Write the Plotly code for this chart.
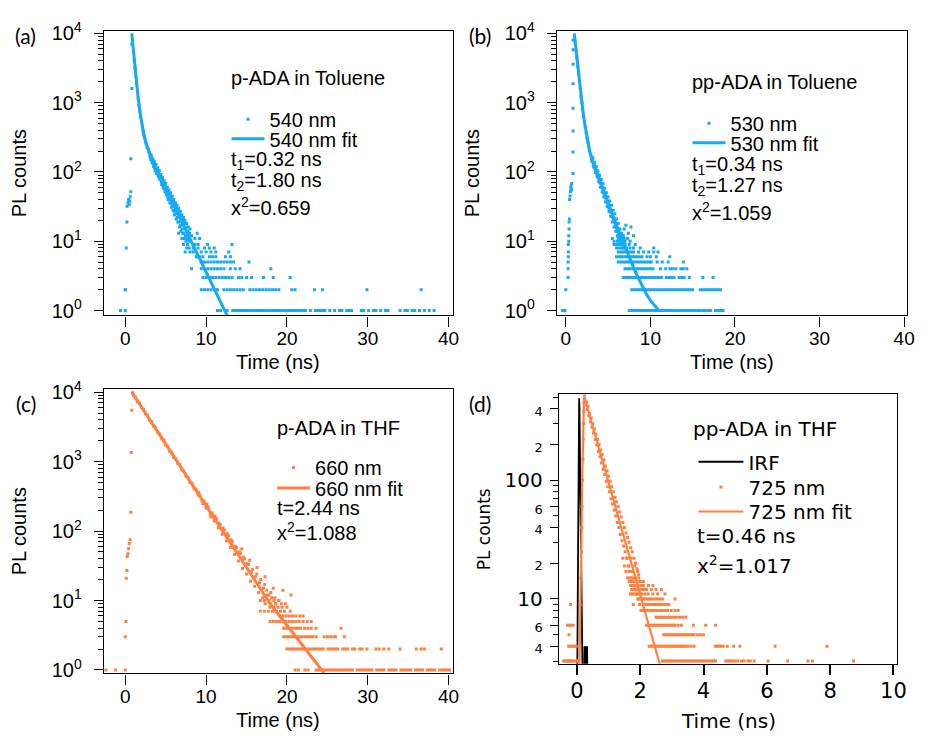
import plotly.graph_objects as go

W, H = 927, 738
BLUE = "#17A9F4"
ORANGE = "#FF8040"
SANS = "Liberation Sans, Arial, Helvetica, sans-serif"
DEJA = "DejaVu Sans, sans-serif"
LETTER = "Lato, sans-serif"

# ---------------- panel (a): p-ADA in Toluene, 540 nm ----------------
a_rise_t = [-0.6, 0.0, 0.0, 0.12, 0.2, 0.22, 0.33, 0.41, 0.49, 0.55, 0.61, 0.69, 0.69, 0.81, 0.81]
a_rise_n = [1, 1, 2, 8, 19, 32, 36, 40, 34, 38, 44, 52, 155, 1600, 7000]
a_dec_t = [1.0, 1.1, 1.2, 1.3, 1.4, 1.5, 1.6, 1.7, 1.8, 1.9, 2.0, 2.1, 2.2, 2.3, 2.4, 2.5, 2.6, 2.7, 2.8, 2.9,
           3.0, 3.1, 3.2, 3.3, 3.4, 3.5, 3.6, 3.7, 3.8, 3.9, 4.0, 4.1, 4.2, 4.3, 4.4, 4.5, 4.6, 4.7, 4.8, 4.9,
           5.0, 5.1, 5.2, 5.3, 5.4, 5.5, 5.6, 5.7, 5.8, 5.9, 6.0, 6.1, 6.2, 6.3, 6.4, 6.5, 6.6, 6.7, 6.8, 6.9,
           7.0, 7.1, 7.2, 7.3, 7.4, 7.5, 7.6, 7.7, 7.8, 7.9, 8.0, 8.2, 8.4, 8.6, 8.8, 9.0]
a_dec_n = [5500, 4150, 3150, 2400, 1880, 1450, 1160, 920, 760, 615, 530, 445, 395, 340, 310, 272, 255, 228, 218, 195,
           190, 160, 175, 140, 155, 120, 140, 105, 128, 95, 115, 85, 104, 78, 92, 66, 84, 58, 75, 52,
           68, 47, 60, 40, 55, 36, 50, 31, 45, 28, 40, 24, 36, 21, 33, 19, 30, 16, 27, 14,
           24, 13, 22, 11, 20, 10, 18, 9, 16, 8, 15, 12, 7, 11, 6, 9]
a_dec2_t = [3.05, 3.15, 3.25, 3.35, 3.45, 3.55, 3.65, 3.75, 3.85, 3.95, 4.05, 4.15, 4.25, 4.35, 4.45, 4.55, 4.65,
            4.75, 4.85, 4.95, 5.05, 5.15, 5.25, 5.35, 5.45, 5.55, 5.65, 5.75, 5.85, 5.95, 6.05, 6.15, 6.25, 6.35,
            6.45, 6.55, 6.65, 6.75, 6.85, 6.95, 7.05, 7.15, 7.25, 7.35, 7.45, 7.55, 7.65, 7.75, 7.85, 7.95]
a_dec2_n = [175, 150, 165, 135, 145, 128, 112, 122, 100, 110, 92, 98, 82, 88, 72, 80, 64, 70, 57, 65,
            50, 58, 44, 52, 40, 47, 35, 42, 32, 38, 27, 34, 25, 31, 22, 28, 19, 25, 17, 23,
            15, 20, 13, 18, 12, 16, 11, 14, 10, 13]
a_rows = {
    1: [11.4, 11.8, 12.6, 13.3, 13.6, 13.9, 14.2, 14.5, 14.8, 15.1, 15.4, 15.7, 16.0, 16.3, 16.6, 16.9, 17.2, 17.5,
        17.8, 18.1, 18.4, 18.7, 19.0, 19.3, 19.6, 19.9, 20.2, 20.5, 20.8, 21.1, 21.4, 21.7, 22.0, 22.3, 22.9, 23.5,
        23.8, 24.1, 24.4, 24.7, 25.3, 25.9, 26.5, 26.8, 27.4, 27.7, 28.0, 29.2, 29.5, 30.1, 30.7, 31.0, 31.6, 32.2,
        32.5, 34.0, 34.6, 34.9, 35.5, 35.8, 36.4, 37.0, 37.6, 38.2],
    2: [0.0, 9.4, 9.8, 10.2, 10.6, 11.0, 11.4, 12.2, 12.6, 13.0, 13.4, 13.8, 14.2, 14.6, 15.4, 15.8, 16.2, 16.6, 17.0,
        17.4, 17.8, 18.2, 18.6, 19.0, 20.6, 21.0, 23.4, 24.4, 29.9, 36.6],
    3: [9.6, 10.0, 10.4, 10.8, 11.2, 11.6, 12.0, 12.4, 12.8, 13.2, 14.0, 14.4, 15.0, 15.6, 17.1, 18.3, 20.4],
    4: [8.2, 9.4, 9.8, 10.2, 10.6, 11.0, 11.4, 11.8, 12.2, 13.0, 13.6, 14.2, 18.0],
    5: [9.4, 9.8, 10.2, 10.6, 11.0, 11.4, 11.8, 12.2, 12.6, 13.0, 13.4, 15.3],
    6: [8.8, 9.2, 9.6, 10.4, 10.8, 11.2, 12.4, 13.0],
    7: [7.4, 8.0, 9.4, 10.0, 10.6, 11.2, 12.8],
    8: [7.6, 8.4, 9.0, 9.8, 10.4, 11.0],
    9: [7.2, 8.6, 10.2, 13.2],
    11: [7.0, 7.9, 9.2],
    13: [6.6, 7.7, 8.9],
}
a_fit_t = [0.8, 0.9, 1.0, 1.2, 1.4, 1.6, 1.8, 2.0, 2.3, 2.6, 3.0, 3.5, 4.0, 5.0, 6.0, 7.0, 8.0, 9.0, 10.0, 11.0, 12.0, 13.0]
a_fit_n = [10000, 7440, 5560, 3170, 1870, 1150, 754, 526, 345, 252, 185, 134, 100, 57.6, 33, 19, 10.9, 6.25, 3.6, 2.06, 1.18, 0.68]

# ---------------- panel (b): pp-ADA in Toluene, 530 nm ----------------
b_rise_t = [-0.4, -0.1, 0.0, 0.27, 0.27, 0.27, 0.3, 0.3, 0.3, 0.35, 0.35, 0.39, 0.39, 0.42, 0.45, 0.5, 0.55, 0.59,
            0.62, 0.66, 0.7, 0.86, 0.86, 0.86, 0.86, 0.86, 0.86, 0.86, 0.86]
b_rise_n = [1, 1, 2, 3, 4, 5, 6, 7, 9, 10, 12, 15, 19, 21, 40, 45, 52, 58, 63, 55, 68, 95, 194, 390, 830, 1870, 3580,
            5830, 8060]
b_dec_t = [1.1, 1.2, 1.3, 1.4, 1.5, 1.6, 1.7, 1.8, 1.9, 2.0, 2.1, 2.2, 2.3, 2.4, 2.5, 2.6, 2.7, 2.8, 2.9,
           3.0, 3.1, 3.2, 3.3, 3.4, 3.5, 3.6, 3.7, 3.8, 3.9, 4.0, 4.1, 4.2, 4.3, 4.4, 4.5, 4.6, 4.7, 4.8, 4.9,
           5.0, 5.1, 5.2, 5.3, 5.4, 5.5, 5.6, 5.7, 5.8, 5.9, 6.0, 6.1, 6.2, 6.3, 6.4, 6.5, 6.6, 6.7, 6.8,
           6.9, 7.1, 7.4, 7.7, 8.0]
b_dec_n = [7500, 5700, 4400, 3350, 2600, 2000, 1600, 1230, 1000, 790, 640, 525, 440, 365, 310, 268, 235, 205, 182,
           170, 140, 160, 118, 138, 98, 120, 85, 104, 72, 90, 60, 78, 52, 68, 44, 58, 37, 50, 32,
           44, 27, 38, 23, 33, 19, 28, 16, 25, 14, 21, 12, 18, 10, 15, 9, 13, 8, 12,
           15, 17, 13, 16, 12]
b_dec2_t = [3.05, 3.15, 3.25, 3.35, 3.45, 3.55, 3.65, 3.75, 3.85, 3.95, 4.05, 4.15, 4.25, 4.35, 4.45, 4.55, 4.65,
            4.75, 4.85, 4.95, 5.05, 5.15, 5.25, 5.35, 5.45, 5.55, 5.65, 5.75, 5.85, 5.95, 6.05, 6.15, 6.25, 6.35,
            6.45, 6.55]
b_dec2_n = [150, 155, 125, 128, 112, 108, 95, 92, 82, 80, 70, 68, 60, 58, 50, 49, 43, 42, 37, 36,
            31, 30, 27, 26, 23, 22, 20, 19, 17, 16, 15, 14, 13, 12, 11, 10]
b_rows = {
    1: [7.5, 7.8, 8.1, 8.4, 8.7, 9.0, 9.3, 9.6, 9.9, 10.2, 10.5, 10.8, 11.1, 11.4, 11.7, 12.0, 12.3, 12.6, 12.9,
        13.2, 13.5, 13.8, 14.1, 14.4, 14.7, 15.0, 15.3, 15.6, 15.9, 16.2, 16.5, 16.8, 17.1, 17.7, 18.0, 18.3, 18.6],
    2: [7.8, 8.1, 8.4, 8.7, 9.0, 9.3, 9.6, 9.9, 10.2, 10.5, 10.8, 11.1, 11.4, 11.7, 12.0, 12.3, 12.6, 12.9, 13.2,
        13.5, 13.8, 14.1, 14.4, 14.7, 15.0, 15.9, 16.2, 16.5, 16.8, 17.1, 17.4, 17.7, 18.0, 18.3],
    3: [6.8, 7.1, 7.4, 7.7, 8.0, 8.3, 8.6, 8.9, 9.2, 9.5, 9.8, 10.1, 10.4, 10.7, 11.0, 11.3, 11.9, 12.2, 12.5, 12.8,
        13.4, 13.7, 14.0, 14.6, 16.2, 17.4],
    4: [7.0, 7.3, 7.6, 7.9, 8.2, 8.5, 8.8, 9.1, 9.4, 9.7, 10.0, 10.3, 11.2, 11.8, 12.3, 12.6, 13.0, 13.6, 13.9, 14.3],
    5: [6.2, 6.5, 6.8, 7.1, 7.4, 7.7, 8.0, 8.3, 8.6, 8.9, 9.2, 9.5, 9.8, 10.1, 10.8, 11.4, 12.1, 13.9],
    6: [6.0, 6.3, 6.6, 6.9, 7.2, 7.5, 7.8, 8.1, 8.4, 8.7, 9.0, 9.6, 10.0, 10.7, 12.3],
    7: [6.2, 6.5, 6.8, 7.1, 7.4, 7.7, 8.0, 8.6, 9.2, 9.8, 10.4, 10.9],
    8: [6.0, 6.3, 6.6, 6.9, 7.2, 7.6, 8.0, 8.8, 10.4],
    9: [5.7, 6.0, 6.3, 6.6, 7.0, 7.5, 8.2],
    10: [5.7, 6.1, 6.5, 7.0, 7.6],
    11: [5.5, 6.2, 6.9, 7.3],
}
b_fit_t = [1.0, 1.1, 1.2, 1.4, 1.6, 1.8, 2.0, 2.2, 2.4, 2.6, 2.8, 3.0, 3.3, 3.6, 4.0, 4.5, 5.0, 5.5, 6.0, 6.5, 7.0,
           7.5, 8.0, 8.5, 9.0, 9.5, 10.0, 10.5, 11.0]
b_fit_n = [10000, 7600, 5800, 3400, 2050, 1250, 800, 530, 370, 270, 205, 165, 128, 103, 77, 52, 35.5, 24.5, 17, 11.8,
           8.2, 5.8, 4.2, 3.1, 2.3, 1.75, 1.4, 1.17, 1.0]

# ---------------- panel (c): p-ADA in THF, 660 nm ----------------
c_rise_t = [-2.4, -1.2, 0.0, 0.0, 0.08, 0.12, 0.2, 0.24, 0.33, 0.41, 0.49, 0.61, 0.69, 0.73, 0.81, 0.9]
c_rise_n = [1, 1, 1, 3, 5, 21, 27, 43, 47, 56, 66, 75, 187, 1350, 5500, 9800]
c_dec_t = [1.0, 1.25, 1.5, 1.75, 2.0, 2.25, 2.5, 2.75, 3.0, 3.25, 3.5, 3.75, 4.0, 4.25, 4.5, 4.75, 5.0, 5.25, 5.5,
           5.75, 6.0, 6.25, 6.5, 6.75, 7.0, 7.25, 7.5, 7.75, 8.0, 8.25, 8.5, 8.75, 9.0, 9.25, 9.5, 9.75, 10.0, 10.25,
           10.5, 10.75, 11.0, 11.25, 11.5, 11.75, 12.0, 12.25, 12.5, 12.75, 13.0, 13.25, 13.5, 13.75, 14.0, 14.25,
           14.5, 14.75, 15.0, 15.25, 15.5, 15.75, 16.0, 16.25, 16.5, 16.75, 17.0, 17.25, 17.5, 17.75, 18.0, 18.5, 19.0]
c_dec_n = [9100, 8500, 7300, 6900, 6000, 5650, 4900, 4600, 3950, 3750, 3220, 3060, 2620, 2500, 2130, 2040, 1730, 1660,
           1410, 1350, 1150, 1100, 935, 900, 760, 730, 615, 600, 500, 490, 405, 400, 330, 328, 268, 270, 215, 222,
           175, 182, 140, 150, 112, 125, 90, 104, 72, 86, 58, 70, 46, 58, 37, 48, 29, 40, 24, 33, 19, 28, 16, 24,
           13, 20, 11, 17, 14, 12, 13, 11, 10]
c_dec2_t = [9.1, 9.6, 10.1, 10.6, 11.1, 11.6, 12.1, 12.6, 13.1, 13.6, 14.1, 14.4, 14.6, 15.1, 15.4, 15.6, 16.1, 16.3,
            16.6, 17.1, 17.3, 17.6, 18.1, 18.3, 18.6, 19.5, 20.5]
c_dec2_n = [360, 250, 245, 160, 165, 130, 110, 92, 75, 60, 50, 55, 42, 34, 38, 26, 22, 30, 18, 15, 22, 12, 11, 15,
            9, 14, 12]
c_rows = {
    1: [21.0, 21.4, 22.2, 22.6, 23.6, 23.9, 24.2, 24.5, 24.8, 25.1, 25.4, 25.7, 26.0, 26.3, 26.6, 26.9, 27.2, 27.5,
        27.8, 28.1, 28.7, 29.0, 29.3, 29.6, 29.9, 30.2, 30.5, 31.1, 31.4, 31.7, 32.0, 32.6, 32.9, 33.2, 33.5, 34.1,
        34.4, 34.7, 35.0, 35.3, 35.9, 36.2, 36.5, 36.8, 37.4, 37.7, 38.0, 38.3, 38.9, 39.2, 39.5, 39.8, 40.1],
    2: [20.0, 20.3, 20.6, 20.9, 21.2, 21.5, 21.8, 22.1, 22.4, 22.7, 23.0, 23.3, 23.6, 23.9, 24.2, 24.5, 25.1, 25.4,
        25.7, 26.0, 26.3, 26.9, 27.2, 27.5, 28.1, 28.4, 29.0, 29.3, 29.9, 31.0, 31.4, 32.0, 32.6, 34.0, 36.0, 36.6,
        37.0, 39.1],
    3: [19.6, 19.9, 20.2, 20.5, 20.8, 21.1, 21.4, 21.7, 22.0, 22.3, 22.6, 22.9, 23.2, 23.6, 24.6, 25.0, 25.4, 25.8,
        26.0, 27.1],
    4: [19.6, 19.9, 20.2, 20.5, 20.8, 21.1, 21.4, 21.7, 22.2, 22.6, 23.0, 23.6, 26.7],
    5: [17.9, 18.3, 18.7, 19.1, 19.5, 19.9, 20.3, 20.7, 21.1, 21.5, 22.0, 22.5, 23.0],
    6: [19.1, 19.5, 19.9, 20.3, 20.7, 21.1, 21.6, 22.0],
    7: [16.7, 17.2, 17.7, 18.2, 18.7, 19.2, 19.7, 20.4],
    8: [17.9, 18.4, 18.9, 19.4, 20.0],
    9: [17.3, 18.0, 18.6, 19.3, 19.8],
    10: [16.7, 17.2, 17.8, 18.4, 19.0],
}
c_fit_t = [0.8, 2, 4, 6, 8, 10, 12, 14, 16, 18, 20, 22, 24, 24.6]
c_fit_n = [10000, 6120, 2690, 1190, 520, 230, 101, 45, 19.6, 8.7, 4.4, 2.2, 1.07, 0.9]

# ---------------- panel (d): pp-ADA in THF, 725 nm ----------------
d_irf_t = [-0.1, 0.0, 0.02, 0.04, 0.06, 0.07, 0.08, 0.1, 0.12, 0.14, 0.16, 0.18, 0.2, 0.22, 0.24, 0.25, 0.26, 0.27,
           0.28, 0.29, 0.3, 0.31, 0.32, 0.34]
d_irf_n = [1, 1, 6, 60, 350, 490, 420, 120, 30, 12, 5, 2, 1, 1, 4, 1, 4, 1, 4, 1, 4, 1, 4, 1]
d_rise_t = [0.05, 0.08, 0.1, 0.12, 0.14, 0.15, 0.16, 0.18, 0.19, 0.2, 0.21, 0.22, 0.23, 0.24]
d_rise_n = [3, 5, 9, 15, 25, 40, 60, 100, 150, 220, 300, 380, 450, 520]
d_dec_t = [0.25, 0.3, 0.35, 0.4, 0.45, 0.5, 0.55, 0.6, 0.65, 0.7, 0.75, 0.8, 0.85, 0.9, 0.95, 1.0, 1.05, 1.1,
           1.15, 1.2, 1.25, 1.3, 1.35, 1.4, 1.45, 1.5, 1.55, 1.6, 1.65, 1.7, 1.75, 1.8, 1.85, 1.9, 1.95, 2.0]
d_dec_n = [470, 455, 420, 365, 335, 300, 270, 245, 220, 200, 180, 165, 148, 132, 120, 108, 98, 88, 80, 72, 66, 60,
           54, 49, 44, 40, 36, 33, 30, 27, 25, 22, 20, 18, 16, 14]
d_dec2_t = [0.275, 0.325, 0.375, 0.425, 0.475, 0.525, 0.575, 0.625, 0.675, 0.725, 0.775, 0.825, 0.875, 0.925, 0.975,
            1.025, 1.075, 1.125, 1.175, 1.225, 1.275, 1.325, 1.375, 1.425, 1.475, 1.525, 1.575, 1.625, 1.675, 1.725,
            1.775, 1.825, 1.875, 1.925, 1.975, 2.025]
d_dec2_n = [430, 395, 350, 310, 280, 250, 220, 198, 175, 158, 140, 124, 112, 98, 88, 80, 70, 63, 56, 50, 44, 40, 35,
            31, 28, 25, 22, 19, 17, 15, 14, 12, 11, 10, 9, 8]
d_rows = {
    3: [-0.42, -0.38, -0.34, -0.3, -0.26, -0.22, -0.18, -0.14, -0.06, -0.02, 2.7, 2.76, 2.82, 2.88, 2.94, 3.0, 3.06,
        3.12, 3.18, 3.24, 3.3, 3.36, 3.42, 3.48, 3.54, 3.6, 3.66, 3.72, 3.78, 3.84, 3.9, 3.96, 4.02, 4.08, 4.14, 4.2,
        4.26, 4.32, 4.38, 4.7, 4.76, 4.82, 4.88, 4.94, 5.0, 5.08, 5.2, 5.28, 5.4, 5.48, 5.6, 6.04, 6.66, 7.3, 7.44,
        8.74],
    4: [-0.26, -0.2, -0.14, -0.08, -0.02, 2.28, 2.34, 2.4, 2.46, 2.52, 2.58, 2.64, 2.7, 2.76, 2.82, 2.88, 2.94, 3.0,
        3.06, 3.12, 3.18, 3.24, 3.3, 3.36, 3.42, 3.5, 3.6, 3.7, 4.37, 4.43, 4.49, 4.55, 4.62, 4.75, 4.95, 5.15, 6.26,
        7.9],
    5: [-0.25, 2.74, 2.8, 2.86, 2.92, 2.98, 3.04, 3.1, 3.16, 3.22, 3.28, 3.34, 3.4, 3.46, 3.52, 3.58, 3.64, 3.7, 3.8,
        3.9, 4.0],
    6: [-0.3, -0.24, -0.18, -0.12, 2.2, 2.26, 2.32, 2.38, 2.44, 2.5, 2.56, 2.62, 2.68, 2.74, 2.8, 2.86, 2.92, 2.98,
        3.04, 3.1, 3.2, 3.3, 3.68, 4.07, 4.38],
    7: [2.5, 2.56, 2.62, 2.68, 2.74, 2.8, 2.86, 2.92, 2.98, 3.06, 3.14, 3.24, 3.34, 3.44],
    8: [2.1, 2.16, 2.22, 2.3, 2.38, 2.46, 2.54, 2.62, 2.7, 2.78, 2.86, 2.98, 3.1, 3.2],
    9: [-0.2, 1.78, 2.1, 2.18, 2.26, 2.34, 2.42, 2.5, 2.58, 2.66, 2.74, 2.82, 2.9],
    10: [1.95, 2.0, 2.06, 2.12, 2.18, 2.24, 2.3, 2.38, 2.46, 2.54, 2.62, 2.7, 3.1],
    11: [1.69, 1.75, 1.81, 1.87, 1.93, 1.99, 2.05, 2.15, 2.25, 2.4, 2.55, 2.78],
    12: [1.73, 1.8, 1.88, 1.96, 2.04, 2.12, 2.2, 2.35, 2.5, 2.67],
    13: [1.7, 1.78, 1.86, 1.94, 2.02, 2.1, 2.26, 2.4],
    14: [1.65, 1.72, 1.8, 1.9, 2.0, 2.1],
    15: [1.6, 1.68, 1.76, 1.85, 1.95],
    17: [1.55, 1.66, 1.74, 1.92],
    19: [1.5, 1.62, 1.83],
    22: [1.45, 1.58, 1.71],
}
d_fit_t = [0.08, 0.1, 0.12, 0.14, 0.16, 0.18, 0.2, 0.22, 0.24, 0.3, 0.4, 0.5, 0.6, 0.8, 1.0, 1.2, 1.4, 1.6, 1.8, 2.0,
           2.2, 2.4, 2.6, 2.8]
d_fit_n = [2.8, 5, 12, 30, 80, 200, 380, 480, 500, 439, 353, 284, 229, 148, 96, 62, 40, 26, 17, 11, 7.1, 4.6, 3.0, 1.9]

# tick labels
pow_vals = [1, 10, 100, 1000, 10000]
pow_text = ["10<sup>0</sup>", "10<sup>1</sup>", "10<sup>2</sup>", "10<sup>3</sup>", "10<sup>4</sup>"]
d_ytick_vals = [4, 6, 10, 20, 40, 60, 100, 200, 400]
d_ytick_text = ["4", "6", "10", "2", "4", "6", "100", "2", "4"]


def px(x):
    return x / W


def py(y):
    return 1 - y / H


def collect(parts, rows):
    t, n = [], []
    for ts, ns in parts:
        t += list(ts)
        n += list(ns)
    for level, xs in rows.items():
        t += list(xs)
        n += [level] * len(xs)
    return t, n


fig = go.Figure()

panels = [
    dict(k="", col=BLUE, name="540 nm", parts=[(a_rise_t, a_rise_n), (a_dec_t, a_dec_n), (a_dec2_t, a_dec2_n)],
         rows=a_rows, ft=a_fit_t, fn=a_fit_n, fw=3, leg=("legend", "legend2")),
    dict(k="2", col=BLUE, name="530 nm", parts=[(b_rise_t, b_rise_n), (b_dec_t, b_dec_n), (b_dec2_t, b_dec2_n)],
         rows=b_rows, ft=b_fit_t, fn=b_fit_n, fw=3, leg=("legend3", "legend4")),
    dict(k="3", col=ORANGE, name="660 nm", parts=[(c_rise_t, c_rise_n), (c_dec_t, c_dec_n), (c_dec2_t, c_dec2_n)],
         rows=c_rows, ft=c_fit_t, fn=c_fit_n, fw=3, leg=("legend5", "legend6")),
]

# IRF for panel d
fig.add_trace(go.Scatter(x=d_irf_t, y=d_irf_n, mode="lines", name="IRF", line=dict(color="black", width=1.8),
                         xaxis="x4", yaxis="y4", legend="legend7"))

for p in panels:
    t, n = collect(p["parts"], p["rows"])
    fig.add_trace(go.Scatter(x=t, y=n, mode="markers", name=p["name"],
                             marker=dict(symbol="square", size=3, color=p["col"], line=dict(width=0)),
                             xaxis="x" + p["k"], yaxis="y" + p["k"], legend=p["leg"][0]))
    fig.add_trace(go.Scatter(x=p["ft"], y=p["fn"], mode="lines", name=p["name"] + " fit",
                             line=dict(color=p["col"], width=p["fw"]),
                             xaxis="x" + p["k"], yaxis="y" + p["k"], legend=p["leg"][1]))

dt, dn = collect([(d_rise_t, d_rise_n), (d_dec_t, d_dec_n), (d_dec2_t, d_dec2_n)], d_rows)
fig.add_trace(go.Scatter(x=dt, y=dn, mode="markers", name="725 nm",
                         marker=dict(symbol="square", size=3, color=ORANGE, line=dict(width=0)),
                         xaxis="x4", yaxis="y4", legend="legend8"))
fig.add_trace(go.Scatter(x=d_fit_t, y=d_fit_n, mode="lines", name="725 nm fit",
                         line=dict(color=ORANGE, width=2.2), xaxis="x4", yaxis="y4", legend="legend9"))

# ---- axes ----
boxes = {"": (105, 20, 458, 312), "2": (563, 20, 917, 312), "3": (105, 387, 458, 679), "4": (565, 393, 907, 669)}
xr = {"": [-2.65, 40.55], "2": [-1.05, 40.35], "3": [-2.65, 40.55], "4": [-0.57, 10.12]}
yr = {"": [-0.07, 4.042], "2": [-0.07, 4.042], "3": [-0.05, 4.052], "4": [0.455, 2.723]}

minor_dec = [m * 10 ** e for e in range(0, 4) for m in range(2, 10)]
minor_d = [3, 5, 7, 8, 9, 30, 50, 70, 80, 90, 300, 500]

layout = dict(width=W, height=H, margin=dict(l=0, r=0, t=0, b=0), autosize=False,
              paper_bgcolor="white", plot_bgcolor="white", showlegend=True)

for k, (l, t, r, b) in boxes.items():
    common = dict(showline=True, linecolor="black", linewidth=1.3, mirror=True, ticks="outside",
                  tickcolor="black", showgrid=False, zeroline=False)
    xa = dict(common, domain=[px(l), px(r)], range=xr[k], anchor="y" + k, tickmode="array")
    ya = dict(common, domain=[py(b), py(t)], range=yr[k], type="log", anchor="x" + k, tickmode="array")
    if k == "4":
        xa.update(tickvals=[0, 2, 4, 6, 8, 10], ticklen=10, tickwidth=1.6,
                  tickfont=dict(family=DEJA, size=21, color="black"), ticklabelstandoff=-2)
        ya.update(tickvals=d_ytick_vals,
                  ticktext=[("<span style='font-size:13px'>%s</span>" % s) if v not in (10, 100) else s
                            for v, s in zip(d_ytick_vals, d_ytick_text)],
                  ticklen=8, tickwidth=1.3, tickfont=dict(family=DEJA, size=20, color="black"),
                  ticklabelstandoff=3,
                  minor=dict(tickmode="array", tickvals=minor_d, ticklen=5, tickcolor="black", ticks="outside"))
    else:
        xa.update(tickvals=[0, 10, 20, 30, 40], ticklen=10, tickwidth=1.3,
                  tickfont=dict(family=SANS, size=19, color="black"), ticklabelstandoff=-4)
        ya.update(tickvals=pow_vals, ticktext=pow_text, ticklen=9, tickwidth=1.3,
                  tickfont=dict(family=SANS, size=20, color="black"), ticklabelstandoff=8,
                  minor=dict(tickmode="array", tickvals=minor_dec, ticklen=5, tickcolor="black", ticks="outside"))
    layout["xaxis" + k] = xa
    layout["yaxis" + k] = ya


# ---- legends (one entry each, placed like the original inset legends) ----
def leg(xl, yc, fam, size, iw):
    return dict(x=px(xl), y=py(yc), xanchor="left", yanchor="middle", bgcolor="rgba(0,0,0,0)", borderwidth=0,
                font=dict(family=fam, size=size, color="black"), itemwidth=iw, tracegroupgap=0)


layout["legend"] = leg(229, 111, SANS, 20, 33)
layout["legend2"] = leg(229, 131, SANS, 20, 33)
layout["legend3"] = leg(695, 115, SANS, 20, 33)
layout["legend4"] = leg(695, 135, SANS, 20, 33)
layout["legend5"] = leg(275, 468, SANS, 20, 33)
layout["legend6"] = leg(275, 489, SANS, 20, 33)
layout["legend7"] = leg(701, 462, DEJA, 20, 45)
layout["legend8"] = leg(701, 488, DEJA, 20, 45)
layout["legend9"] = leg(701, 513, DEJA, 20, 45)

ann = []


def text(x, y, s, fam=SANS, size=20, xanchor="left", angle=0):
    ann.append(dict(x=px(x), y=py(y), xref="paper", yref="paper", text=s, showarrow=False, xanchor=xanchor,
                    yanchor="middle", textangle=angle, font=dict(family=fam, size=size, color="black")))


# panel letters
text(26, 25, "(a)", LETTER, 21, "center")
text(485, 25, "(b)", LETTER, 21, "center")
text(26, 402, "(c)", LETTER, 21, "center")
text(485, 402, "(d)", LETTER, 21, "center")
# axis titles
text(281.5, 360, "Time (ns)", SANS, 20, "center")
text(740, 360, "Time (ns)", SANS, 20, "center")
text(281.5, 727, "Time (ns)", SANS, 20, "center")
text(736, 728, "Time (ns)", DEJA, 20, "center")
text(19.5, 166, "PL counts", SANS, 20, "center", -90)
text(477.5, 166, "PL counts", SANS, 20, "center", -90)
text(19.5, 533, "PL counts", SANS, 20, "center", -90)
text(489.5, 531, "PL counts", DEJA, 17, "center", -90)
# panel (a)
text(232, 69, "p-ADA in Toluene")
text(232, 153, "t<sub>1</sub>=0.32 ns")
text(232, 175, "t<sub>2</sub>=1.80 ns")
text(232, 200, "x<sup>2</sup>=0.659")
# panel (b)
text(698, 73, "pp-ADA in Toluene")
text(698, 158, "t<sub>1</sub>=0.34 ns")
text(698, 180, "t<sub>2</sub>=1.27 ns")
text(698, 205, "x<sup>2</sup>=1.059")
# panel (c)
text(278, 427, "p-ADA in THF")
text(278, 509, "t=2.44 ns")
text(278, 534, "x<sup>2</sup>=1.088")
# panel (d)
text(699, 428, "pp-ADA in THF", DEJA, 20)
text(703, 538, "t=0.46 ns", DEJA, 20)
text(703, 568, "x<sup>2</sup>=1.017", DEJA, 20)

layout["annotations"] = ann
fig.update_layout(**layout)

fig.write_html("out.html", config={"displayModeBar": False},
               post_script="document.body.style.margin='0';document.body.style.overflow='hidden';")
